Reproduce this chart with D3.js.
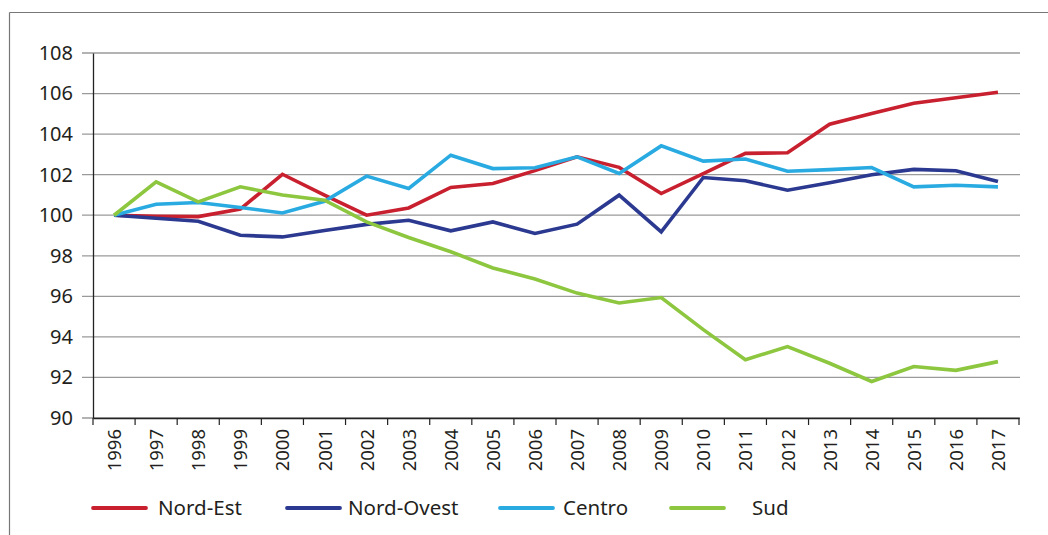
<!DOCTYPE html>
<html>
<head>
<meta charset="utf-8">
<script src="https://cdn.jsdelivr.net/npm/d3@7/dist/d3.min.js"></script>
<style>
  body { margin: 0; background: #fff; }
  svg { display: block; font-family: "Noto Sans", sans-serif; }
</style>
</head>
<body>
<div id="chart"></div>
<script>
var width = 1048, height = 535;

var years = ["1996","1997","1998","1999","2000","2001","2002","2003","2004","2005","2006",
             "2007","2008","2009","2010","2011","2012","2013","2014","2015","2016","2017"];

var nordEst   = [100, 99.95, 99.93, 100.3, 102.02, 100.99, 100.0, 100.36, 101.37, 101.56, 102.2,
                 102.88, 102.36, 101.07, 102.05, 103.05, 103.08, 104.49, 105.02, 105.52, 105.79, 106.06];
var nordOvest = [100, 99.85, 99.7, 99.01, 98.93, 99.25, 99.55, 99.75, 99.23, 99.67, 99.1,
                 99.56, 100.99, 99.18, 101.86, 101.7, 101.23, 101.6, 102.0, 102.26, 102.19, 101.66];
var centro    = [100, 100.54, 100.63, 100.38, 100.11, 100.69, 101.93, 101.32, 102.96, 102.3, 102.34,
                 102.88, 102.06, 103.42, 102.67, 102.77, 102.17, 102.25, 102.35, 101.4, 101.48, 101.4];
var sud       = [100, 101.65, 100.66, 101.4, 101.0, 100.74, 99.67, 98.9, 98.2, 97.4, 96.85,
                 96.16, 95.67, 95.94, 94.36, 92.87, 93.52, 92.7, 91.8, 92.54, 92.35, 92.78];

var yTicks = [90, 92, 94, 96, 98, 100, 102, 104, 106, 108];

var seriesNames  = ["Nord-Est", "Nord-Ovest", "Centro", "Sud"];
var seriesColors = ["#c8202f", "#2b3990", "#29abe2", "#8dc63f"];
var seriesValues = [nordEst, nordOvest, centro, sud];

var svg = d3.select("#chart")
            .append("svg")
            .attr("width", width)
            .attr("height", height);

// outer frame (top + left edges only visible)
svg.append("line").attr("x1", 9.5).attr("x2", width).attr("y1", 12.5).attr("y2", 12.5)
   .attr("stroke", "#777").attr("stroke-width", 1.2);
svg.append("line").attr("x1", 9.5).attr("x2", 9.5).attr("y1", 12.5).attr("y2", height)
   .attr("stroke", "#777").attr("stroke-width", 1.2);

var x = d3.scaleBand()
          .domain(years)
          .range([93, 1019])
          .padding(0);

var y = d3.scaleLinear()
          .domain([90, 108])
          .range([418, 53]);

// gridlines
svg.append("g")
   .selectAll("line")
   .data(yTicks)
   .enter()
   .append("line")
   .attr("x1", 82)
   .attr("x2", 1020)
   .attr("y1", function(d){ return y(d); })
   .attr("y2", function(d){ return y(d); })
   .attr("stroke", "#9a9a9a")
   .attr("stroke-width", 1.3);

// y axis
var yAxis = svg.append("g")
   .attr("transform", "translate(93,0)")
   .call(d3.axisLeft(y).tickValues(yTicks).tickSize(0).tickPadding(20));
yAxis.select(".domain").attr("stroke", "#222").attr("stroke-width", 1.3);
yAxis.selectAll("text").attr("font-size", 20).attr("fill", "#231f20")
     .attr("font-family", "Noto Sans");

// x axis with ticks at band edges
var xAxis = svg.append("g")
   .attr("transform", "translate(0,418)")
   .call(d3.axisBottom(x).tickSize(0).tickFormat(""));
xAxis.select(".domain").attr("stroke", "#222").attr("stroke-width", 1.3);

var edges = years.map(function(d){ return x(d); }).concat([x(years[years.length - 1]) + x.bandwidth()]);
svg.append("g")
   .selectAll("line")
   .data(edges)
   .enter()
   .append("line")
   .attr("x1", function(d){ return d; })
   .attr("x2", function(d){ return d; })
   .attr("y1", 418)
   .attr("y2", 425)
   .attr("stroke", "#222")
   .attr("stroke-width", 1.2);

svg.append("g")
   .selectAll("text")
   .data(years)
   .enter()
   .append("text")
   .attr("transform", function(d){
       return "translate(" + (x(d) + x.bandwidth() / 2 + 7) + ",429) rotate(-90)";
   })
   .attr("text-anchor", "end")
   .attr("font-size", 18.5)
   .attr("fill", "#231f20")
   .text(function(d){ return d; });

// lines
var line = d3.line()
   .x(function(d, i){ return x(years[i]) + x.bandwidth() / 2; })
   .y(function(d){ return y(d); });

svg.append("g")
   .selectAll("path")
   .data(seriesValues)
   .enter()
   .append("path")
   .attr("d", line)
   .attr("fill", "none")
   .attr("stroke", function(d, i){ return seriesColors[i]; })
   .attr("stroke-width", 3.6)
   .attr("stroke-linejoin", "miter");

// legend
var legendX = [93, 287, 500, 671];
var legendTextX = [158, 348, 563, 752];
var legend = svg.append("g")
   .selectAll("g")
   .data(seriesNames)
   .enter()
   .append("g");

legend.append("line")
   .attr("x1", function(d, i){ return legendX[i]; })
   .attr("x2", function(d, i){ return legendX[i] + 53; })
   .attr("y1", 508)
   .attr("y2", 508)
   .attr("stroke", function(d, i){ return seriesColors[i]; })
   .attr("stroke-width", 3.8)
   .attr("stroke-linecap", "round");

legend.append("text")
   .attr("x", function(d, i){ return legendTextX[i]; })
   .attr("y", 508)
   .attr("dy", "0.35em")
   .attr("font-size", 20.5)
   .attr("fill", "#231f20")
   .text(function(d){ return d; });
</script>
</body>
</html>
